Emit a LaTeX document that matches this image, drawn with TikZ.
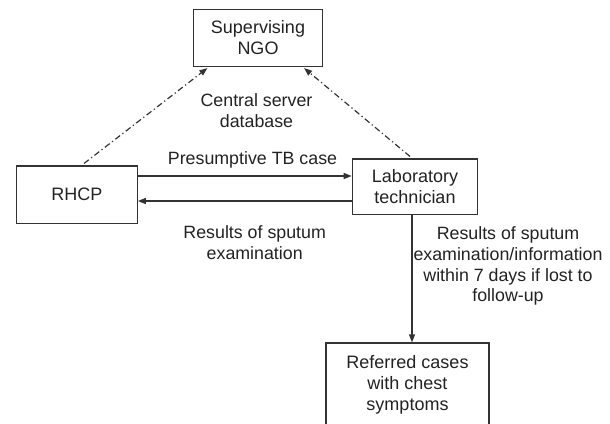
\documentclass[tikz,border=0pt]{standalone}
\usepackage{fontspec}
\setmainfont{Liberation Sans}
\usetikzlibrary{arrows.meta}
\usetikzlibrary{calc}
\definecolor{lineGray}{RGB}{51,51,51}
\definecolor{textGray}{RGB}{34,34,34}
\tikzset{
  box/.style={draw=lineGray, line width=1.2pt, inner sep=0pt, align=center, text=textGray, font=\fontsize{18}{21}\selectfont},
  lbl/.style={inner sep=0pt, align=center, text=textGray, font=\fontsize{17.8}{20.8}\selectfont},
  flow/.style={draw=lineGray, line width=1.2pt, -{Triangle[length=8pt,width=6pt]}},
  link/.style={flow, dash pattern=on 6pt off 3pt on 1.2pt off 3pt},
}

\begin{document}
\begin{tikzpicture}[x=1pt,y=1pt,yscale=-1,xscale=1]
\useasboundingbox (0,0) rectangle (610,423);

%Shape: Rectangle
\node (ngo) [box, minimum width=129, minimum height=57] at (258,38) {Supervising\\NGO};
%Shape: Rectangle
\node (rhcp) [box, minimum width=120.6, minimum height=57.3] at (77,194.7) {RHCP};
%Shape: Rectangle
\node (lab) [box, minimum width=125.4, minimum height=55.3] at (415,186.7) {Laboratory\\technician};
%Shape: Rectangle
\node (ref) [box, minimum width=163, minimum height=84] at (407.5,385) {Referred cases\\with chest\\symptoms};

%Straight Lines
\draw [flow] ($(rhcp.east)+(0,-18.7)$) coordinate (presL) -- (presL -| lab.west);
%Straight Lines
\draw [flow] ($(lab.west)+(0,14.3)$) coordinate (resR) -- (resR -| rhcp.east);
%Straight Lines
\draw [flow] ($(lab.south)+(-3,0)$) coordinate (infoT) -- (infoT |- ref.north);
%Dash Dot Lines
\draw [link] ($(rhcp.north)+(7,-2)$) -- ($(ngo.south west)+(14.5,1)$);
%Dash Dot Lines
\draw [link] ($(lab.north)+(-5,-2)$) -- ($(ngo.south east)+(-19,1)$);

% Text Node
\node (srv) [lbl] at (256.5,111) {Central server\\database};
% Text Node
\node (pres) [lbl] at (252.5,160) {Presumptive TB case};
% Text Node
\node (res) [lbl] at (254.7,243) {Results of sputum\\examination};
% Text Node
\node (resinfo) [lbl] at (508,266) {Results of sputum\\examination/information\\within 7 days if lost to\\follow-up};

\end{tikzpicture}
\end{document}
